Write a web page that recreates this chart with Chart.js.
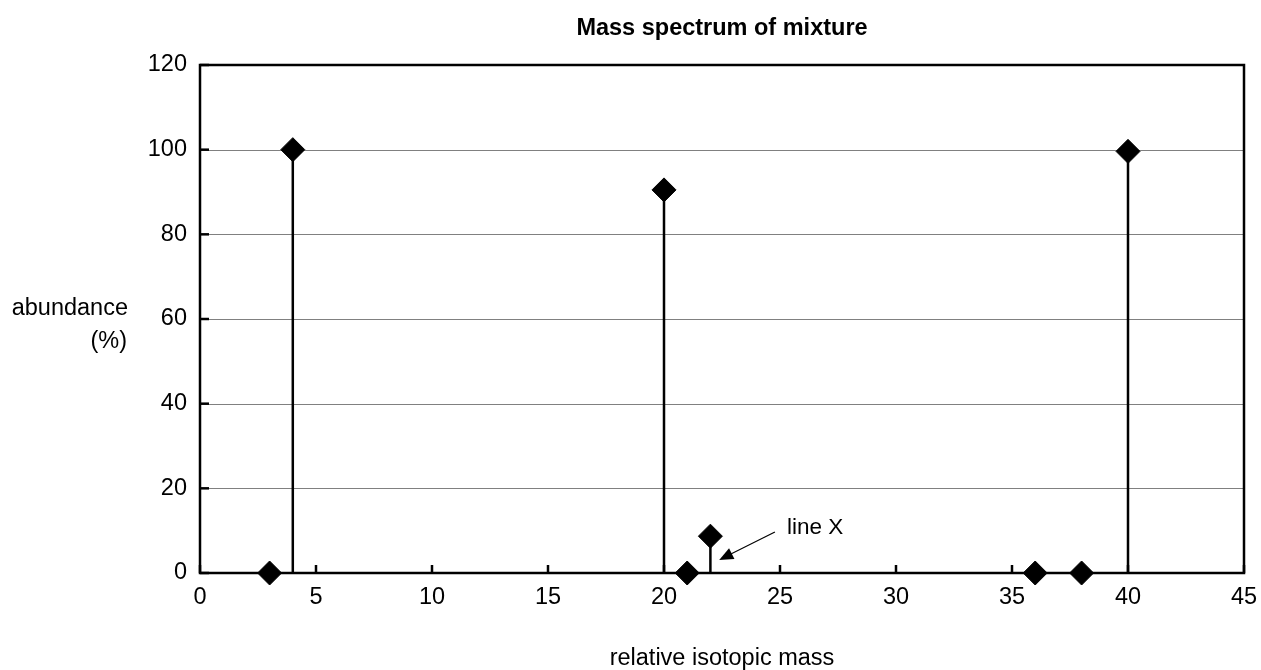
<!DOCTYPE html>
<html>
<head>
<meta charset="utf-8">
<script src="https://cdn.jsdelivr.net/npm/chart.js@4.4.1/dist/chart.umd.min.js"></script>
<style>
html,body{margin:0;padding:0;background:#fff;}
#wrap{width:1261px;height:670px;position:relative;}
</style>
</head>
<body>
<div id="wrap"><canvas id="c" width="1261" height="670"></canvas></div>
<script>
const masses = [3, 4, 20, 21, 22, 36, 38, 40];
const abundance = [0, 100, 90.5, 0, 8.7, 0, 0, 99.6];
const xTicks = [0, 5, 10, 15, 20, 25, 30, 35, 40, 45];
const yTicks = [0, 20, 40, 60, 80, 100, 120];
const titleText = 'Mass spectrum of mixture';
const xTitle = 'relative isotopic mass';
const yTitleLines = ['abundance', '(%)'];
const annotationText = 'line X';

const FONT = 'Arial, "Liberation Sans", sans-serif';
const FS = 23.5;

const stemDatasets = masses.map((m, i) => ({ m, v: abundance[i] }))
  .filter(p => p.v > 0)
  .map(p => ({
    type: 'line',
    data: [{ x: p.m, y: 0 }, { x: p.m, y: p.v }],
    borderColor: '#000',
    borderWidth: 2.5,
    pointRadius: 0,
    fill: false,
    clip: false,
    order: 2
  }));

const points = masses.map((m, i) => ({ x: m, y: abundance[i] }));

const decor = {
  id: 'decor',
  beforeDatasetsDraw(chart) {
    const { ctx, chartArea: a, scales: { x, y } } = chart;
    ctx.save();
    ctx.strokeStyle = '#808080';
    ctx.lineWidth = 1;
    yTicks.forEach(t => {
      if (t === 0 || t === 120) return;
      const py = Math.round(y.getPixelForValue(t)) + 0.5;
      ctx.beginPath(); ctx.moveTo(a.left, py); ctx.lineTo(a.right, py); ctx.stroke();
    });
    ctx.strokeStyle = '#000';
    ctx.lineWidth = 2.5;
    xTicks.forEach(t => {
      const px = x.getPixelForValue(t);
      ctx.beginPath(); ctx.moveTo(px, a.bottom); ctx.lineTo(px, a.bottom - 8); ctx.stroke();
    });
    yTicks.forEach(t => {
      const py = y.getPixelForValue(t);
      ctx.beginPath(); ctx.moveTo(a.left, py); ctx.lineTo(a.left + 9, py); ctx.stroke();
    });
    ctx.restore();
  },
  afterDatasetsDraw(chart) {
    const { ctx, chartArea: a, scales: { x, y } } = chart;
    ctx.save();
    ctx.strokeStyle = '#000';
    ctx.lineWidth = 2.5;
    ctx.strokeRect(a.left, a.top, a.right - a.left, a.bottom - a.top);
    const x0 = x.getPixelForValue(24.78), y0 = y.getPixelForValue(9.7);
    const x1 = x.getPixelForValue(22.38), y1 = y.getPixelForValue(3.1);
    const ang = Math.atan2(y1 - y0, x1 - x0);
    ctx.lineWidth = 1.2;
    ctx.beginPath(); ctx.moveTo(x0, y0); ctx.lineTo(x1 - Math.cos(ang) * 8, y1 - Math.sin(ang) * 8); ctx.stroke();
    ctx.fillStyle = '#000';
    ctx.beginPath();
    ctx.moveTo(x1, y1);
    ctx.lineTo(x1 - Math.cos(ang) * 14 + Math.sin(ang) * 6, y1 - Math.sin(ang) * 14 - Math.cos(ang) * 6);
    ctx.lineTo(x1 - Math.cos(ang) * 14 - Math.sin(ang) * 6, y1 - Math.sin(ang) * 14 + Math.cos(ang) * 6);
    ctx.closePath(); ctx.fill();
    ctx.font = '22.5px ' + FONT;
    ctx.textAlign = 'left'; ctx.textBaseline = 'alphabetic';
    ctx.fillText(annotationText, x.getPixelForValue(25.3), 534);
    ctx.font = 'bold 23.5px ' + FONT;
    ctx.textAlign = 'center';
    ctx.fillText(titleText, (a.left + a.right) / 2, 35);
    ctx.font = FS + 'px ' + FONT;
    ctx.fillText(xTitle, (a.left + a.right) / 2, 665);
    ctx.textAlign = 'right';
    ctx.fillText(yTitleLines[0], 128, 315);
    ctx.fillText(yTitleLines[1], 127, 348);
    ctx.restore();
  }
};

new Chart(document.getElementById('c'), {
  type: 'scatter',
  data: {
    datasets: [
      ...stemDatasets,
      {
        type: 'scatter',
        data: points,
        pointStyle: 'rectRot',
        pointRadius: 12,
        pointHoverRadius: 12,
        backgroundColor: '#000',
        borderColor: '#000',
        borderWidth: 1,
        clip: false,
        order: 1
      }
    ]
  },
  options: {
    responsive: false,
    animation: false,
    devicePixelRatio: 1,
    layout: { padding: { top: 65, right: 17, left: 0, bottom: 0 } },
    plugins: { legend: { display: false }, tooltip: { enabled: false }, title: { display: false } },
    scales: {
      x: {
        type: 'linear', min: 0, max: 45,
        afterFit(s) { s.height = 97; s.paddingLeft = 0; s.paddingRight = 0; },
        afterBuildTicks(s) { s.ticks = xTicks.map(v => ({ value: v })); },
        grid: { display: false, drawTicks: false },
        border: { display: false },
        ticks: { color: '#000', font: { size: FS, family: FONT }, padding: 10, maxRotation: 0 }
      },
      y: {
        type: 'linear', min: 0, max: 120,
        afterFit(s) { s.width = 200; s.paddingTop = 0; s.paddingBottom = 0; },
        afterBuildTicks(s) { s.ticks = yTicks.map(v => ({ value: v })); },
        grid: { display: false, drawTicks: false },
        border: { display: false },
        ticks: { color: '#000', font: { size: FS, family: FONT }, padding: 13 }
      }
    }
  },
  plugins: [decor]
});
</script>
</body>
</html>
